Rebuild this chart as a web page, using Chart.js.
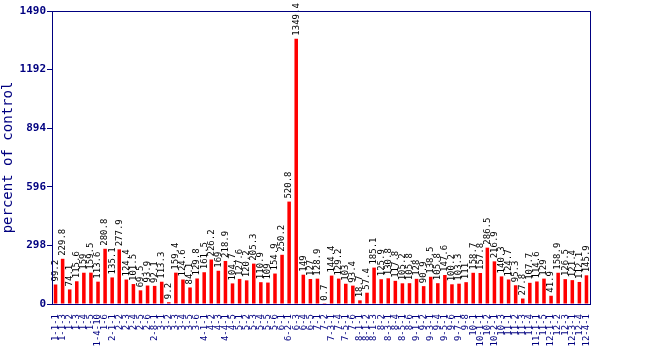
<!DOCTYPE html>
<html>
<head>
<meta charset="utf-8">
<script src="https://cdn.jsdelivr.net/npm/chart.js@4/dist/chart.umd.min.js"></script>
<style>
  html, body { margin: 0; padding: 0; background: #fff; }
  #wrap { width: 650px; height: 350px; position: relative; }
</style>
</head>
<body>
<div id="wrap"><canvas id="c"></canvas></div>
<script>
// data
const labels = [
  '1-1-1','1-1-3','1-2','1-3','1-4','1-5','1-4-10','1-6','2-1-1','2-2',
  '2-3','2-4','2-5','2-6','2-8-1','3-1','3-2','3-3','3-4','3-5',
  '3-6','4-1-1','4-2','4-3','4-4-1','4-5','5-1','5-2','5-3','5-4',
  '5-5','5-6','6-1','6-2-1','6-3','6-4','6-5','7-1','7-2','7-3-1',
  '7-4','7-5-1','7-6','8-1-1','8-1-2','8-1-3','8-2','8-3-1','8-4','8-5-1',
  '8-6','9-1-1','9-2','9-3-1','9-4','9-5-1','9-6','9-7-1','9-8','10-1',
  '10-1-1','10-2','10-2-1','10-3','11-1','11-2','11-3','11-4','11-1-1','11-5',
  '12-1-1','12-2','12-3','12-3-1','12-4','12-4-1'
];
const values = [
  99.2, 229.8, 74.1, 115.6, 159, 159.5, 113.6, 280.8, 135.1, 277.9,
  124.4, 101.5, 69.5, 93.9, 92.1, 113.3, 9.2, 159.4, 124.6, 84.1,
  129.8, 161.5, 226.2, 169, 218.9, 104.7, 127.6, 120.2, 205.3, 110.9,
  109, 154.9, 250.2, 520.8, 1349.4, 149, 127, 128.9, 0.7, 144.4,
  129.2, 103, 93.4, 18.7, 57.4, 185.1, 125.9, 130.8, 117.8, 105.2,
  105.8, 128, 90.9, 138.5, 105.8, 147.6, 100.2, 103.3, 111, 158.7,
  157.8, 286.5, 216.9, 140.3, 124.7, 95.3, 27.8, 107.7, 114.6, 129,
  41.9, 158.9, 126.5, 121.4, 112.1, 145.9
];
const yTicks = [0, 298, 596, 894, 1192, 1490];

const NAVY = '#000080';
const MONO = "'DejaVu Sans Mono', 'Liberation Mono', monospace";

// value labels above bars + box around plot
const barLabels = {
  id: 'barLabels',
  afterDatasetsDraw(chart) {
    const ctx = chart.ctx;
    const meta = chart.getDatasetMeta(0);
    ctx.save();
    ctx.fillStyle = '#000';
    ctx.font = '9px ' + MONO;
    ctx.textAlign = 'left';
    ctx.textBaseline = 'middle';
    meta.data.forEach((bar, i) => {
      ctx.save();
      ctx.translate(bar.x, bar.y - 3);
      ctx.rotate(-Math.PI / 2);
      ctx.fillText(String(values[i]), 0, 0);
      ctx.restore();
    });
    const a = chart.chartArea;
    ctx.strokeStyle = NAVY;
    ctx.lineWidth = 1;
    ctx.strokeRect(a.left + 0.5, a.top + 0.5, a.right - a.left, a.bottom - a.top);
    ctx.restore();
  }
};

new Chart(document.getElementById('c'), {
  type: 'bar',
  data: {
    labels: labels,
    datasets: [{
      data: values,
      backgroundColor: '#ff0000',
      borderWidth: 0,
      barPercentage: 0.5,
      categoryPercentage: 1.0
    }]
  },
  options: {
    responsive: true,
    maintainAspectRatio: false,
    animation: false,
    layout: { padding: { top: 11, right: 60, left: 0, bottom: 0 } },
    plugins: { legend: { display: false }, tooltip: { enabled: false } },
    scales: {
      x: {
        grid: { display: false },
        border: { display: true, color: NAVY, width: 1 },
        ticks: {
          autoSkip: false,
          maxRotation: 90,
          minRotation: 90,
          padding: 2,
          color: NAVY,
          font: { family: MONO, size: 9 }
        },
        afterFit(scale) { scale.height = 46; }
      },
      y: {
        min: 0,
        max: 1490,
        afterBuildTicks(scale) { scale.ticks = yTicks.map(v => ({ value: v })); },
        grid: { display: true, drawOnChartArea: false, drawTicks: true, tickLength: 5, color: NAVY },
        border: { display: true, color: NAVY, width: 1 },
        ticks: {
          color: NAVY,
          padding: 1,
          font: { family: MONO, size: 11, weight: 'bold' },
          callback: v => String(v)
        },
        title: {
          display: true,
          text: 'percent of control',
          color: NAVY,
          padding: { top: 0, bottom: 2 },
          font: { family: MONO, size: 14 }
        },
        afterFit(scale) { scale.width = 52; }
      }
    }
  },
  plugins: [barLabels]
});
</script>
</body>
</html>
